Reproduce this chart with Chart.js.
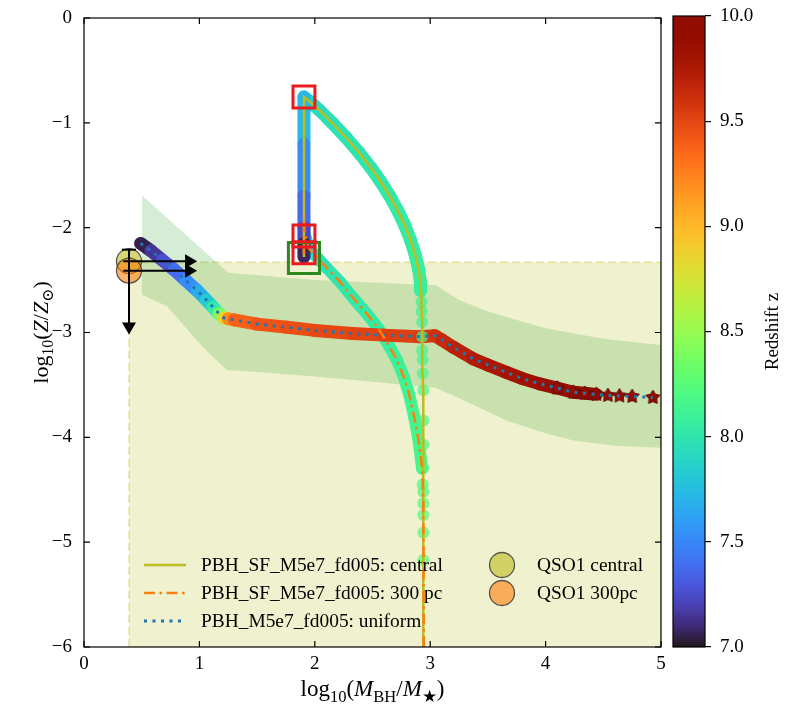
<!DOCTYPE html>
<html>
<head>
<meta charset="utf-8">
<script src="https://cdn.jsdelivr.net/npm/chart.js@4.4.1/dist/chart.umd.min.js"></script>
<style>
html, body { margin:0; padding:0; background:#fff; }
#wrap { position:relative; width:800px; height:711px; }
#wrap canvas { position:absolute; left:0; top:0; }
</style>
</head>
<body>
<div id="wrap">
  <canvas id="main" width="800" height="711"></canvas>
  <canvas id="cbar" width="800" height="711"></canvas>
</div>
<script>
//-------------
//- DATA -
//-------------
var xTicks = [0, 1, 2, 3, 4, 5];
var yTicks = [0, -1, -2, -3, -4, -5, -6];
var cbTicks = [7.0, 7.5, 8.0, 8.5, 9.0, 9.5, 10.0];

// upper limit region (QSO1)
var limitX = [0.39, 0.39, 5.0, 5.0];
var limitY = [-6.0, -2.33, -2.33, -6.0];

// green band
var bandUpperX = [0.5, 1.25, 2.0, 3.05, 3.25, 3.5, 3.75, 4.0, 4.25, 4.5, 4.75, 5.0];
var bandUpperY = [-1.69, -2.43, -2.5, -2.55, -2.69, -2.80, -2.88, -2.96, -3.01, -3.06, -3.09, -3.12];
var bandLowerX = [0.5, 0.72, 1.03, 1.24, 1.41, 2.0, 2.5, 3.05, 3.3, 3.66, 4.0, 4.24, 4.6, 5.0];
var bandLowerY = [-2.64, -2.75, -3.14, -3.36, -3.37, -3.42, -3.47, -3.53, -3.65, -3.84, -3.96, -4.03, -4.08, -4.10];

// PBH_M5e7_fd005: uniform
var uniX = [0.49, 0.58, 0.68, 0.78, 0.88, 0.98, 1.06, 1.12, 1.17, 1.21, 1.25, 1.30, 1.5, 1.76, 2.0, 2.33, 2.6, 2.91, 3.04,
            3.1, 3.2, 3.37, 3.5, 3.66, 3.8, 3.95, 4.1, 4.24, 4.34, 4.44, 4.54, 4.64, 4.75, 4.93];
var uniY = [-2.15, -2.22, -2.31, -2.40, -2.50, -2.60, -2.69, -2.76, -2.82, -2.86, -2.87, -2.88, -2.92, -2.95, -2.98, -3.01, -3.025, -3.04, -3.03,
            -3.07, -3.14, -3.25, -3.31, -3.38, -3.44, -3.49, -3.53, -3.57, -3.58, -3.59, -3.60, -3.605, -3.61, -3.62];
var uniZ = [7.0, 7.1, 7.2, 7.32, 7.45, 7.6, 7.75, 7.9, 8.15, 8.6, 9.05, 9.35, 9.42, 9.45, 9.48, 9.5, 9.52, 9.54, 9.57,
            9.62, 9.67, 9.72, 9.75, 9.78, 9.81, 9.84, 9.86, 9.88, 9.89, 9.9, 9.91, 9.92, 9.93, 9.95];

// PBH_SF_M5e7_fd005: central
var cenX = [2.94,
            2.94, 2.94, 2.94, 2.94, 2.94, 2.94, 2.94, 2.94, 2.935, 2.935, 2.93, 2.93, 2.93, 2.925, 2.925, 2.92,
            2.915, 2.9, 2.87, 2.83, 2.78, 2.72, 2.65, 2.57, 2.48, 2.38, 2.27, 2.15, 2.04, 1.96, 1.906,
            1.906, 1.906, 1.906, 1.906, 1.906];
var cenY = [-6.0,
            -5.17, -4.91, -4.74, -4.52, -4.29, -4.07, -3.84, -3.55, -3.39, -3.26, -3.17, -3.04, -2.9, -2.8, -2.71, -2.6,
            -2.52, -2.4, -2.26, -2.12, -1.98, -1.84, -1.70, -1.56, -1.42, -1.28, -1.14, -1.0, -0.88, -0.80, -0.754,
            -1.2, -1.7, -2.0, -2.15, -2.28];
var cenZ = [8.25,
            8.24, 8.23, 8.22, 8.21, 8.2, 8.19, 8.18, 8.17, 8.16, 8.15, 8.14, 8.13, 8.12, 8.11, 8.1, 8.09,
            8.08, 8.07, 8.06, 8.05, 8.04, 8.03, 8.02, 8.01, 8.0, 7.99, 7.98, 7.96, 7.94, 7.9, 7.85,
            7.6, 7.45, 7.3, 7.15, 7.0];

// PBH_SF_M5e7_fd005: 300 pc
var p3X = [2.945, 2.94, 2.935, 2.93, 2.91, 2.89, 2.86, 2.82, 2.77, 2.71, 2.64, 2.55, 2.45, 2.34, 2.22, 2.1, 2.0, 1.95, 1.91, 1.906, 1.906];
var p3Y = [-6.0, -4.63, -4.45, -4.3, -4.12, -3.97, -3.8, -3.6, -3.42, -3.26, -3.12, -2.96, -2.82, -2.68, -2.52, -2.38, -2.26, -2.2, -2.05, -1.88, -2.28];
var p3Z = [8.25, 8.22, 8.2, 8.18, 8.17, 8.16, 8.15, 8.13, 8.11, 8.09, 8.07, 8.05, 8.04, 8.03, 8.01, 7.99, 7.96, 7.9, 7.8, 7.6, 7.0];

// markers (squares)
var redSqX = [1.906, 1.906, 1.906];
var redSqY = [-0.754, -2.08, -2.24];
var greenSqX = [1.906];
var greenSqY = [-2.29];

// QSO1 observations + limits
var qsoLabels = ['QSO1 central', 'QSO1 300pc'];
var qsoX = [0.39, 0.39];
var qsoY = [-2.32, -2.41];
var qsoFill = ['rgba(188,189,34,0.6)', 'rgba(255,127,14,0.6)'];
var hArrowFromX = [0.34, 0.34];
var hArrowToX = [0.98, 0.98];
var vArrowX = [0.39];
var vArrowFromY = [-2.21];
var vArrowToY = [-3.02];

var lineLabels = ['PBH_SF_M5e7_fd005: central', 'PBH_SF_M5e7_fd005: 300 pc', 'PBH_M5e7_fd005: uniform'];

var SERIF = '"Liberation Serif", "DejaVu Serif", serif';
var DASHDOT = [11, 4.5, 2.5, 4.5];
var DOTTED = [3, 5.5];

//-------------
//- HELPERS -
//-------------
function turbo(t) {
  t = Math.min(1, Math.max(0, t));
  var r = 0.13572138 + t*(4.61539260 + t*(-42.66032258 + t*(132.13108234 + t*(-152.94239396 + t*59.28637943))));
  var g = 0.09140261 + t*(2.19418839 + t*(4.84296658 + t*(-14.18503333 + t*(4.27729857 + t*2.82956604))));
  var b = 0.10667330 + t*(12.64194608 + t*(-60.58204836 + t*(110.36276771 + t*(-89.90310912 + t*27.34824973))));
  return [r, g, b].map(function(v){ return Math.round(255 * Math.min(1, Math.max(0, v))); });
}
function zColor(z, a) {
  var c = turbo((z - 7) / 3);
  return 'rgba(' + c[0] + ',' + c[1] + ',' + c[2] + ',' + (a == null ? 1 : a) + ')';
}
function pts(xs, ys) {
  return xs.map(function(x, i){ return {x: x, y: ys[i]}; });
}
function fmt(v) {
  return v < 0 ? '\u2212' + Math.abs(v) : String(v);
}

var starCache = {};
function starImg(color) {
  if (starCache[color]) return starCache[color];
  var R = 7.5, c = document.createElement('canvas');
  c.width = c.height = 2 * R + 2;
  var g = c.getContext('2d');
  g.beginPath();
  for (var i = 0; i < 10; i++) {
    var r = i % 2 ? R * 0.55 : R;
    var a = -Math.PI / 2 + i * Math.PI / 5;
    g.lineTo(R + 1 + r * Math.cos(a), R + 1 + r * Math.sin(a));
  }
  g.closePath();
  g.fillStyle = color; g.fill();
  g.strokeStyle = 'rgba(90,15,5,0.9)'; g.lineWidth = 1; g.stroke();
  starCache[color] = c;
  return c;
}

// thick coloured track (redshift along the path)
function trackSet(xs, ys, zs, from, to, w, ord) {
  var sx = xs.slice(from, to), sy = ys.slice(from, to), sz = zs.slice(from, to);
  return {
    data: pts(sx, sy), pointRadius: 0, borderWidth: w, fill: false, order: ord,
    borderColor: zColor(sz[0]), borderCapStyle: 'round', borderJoinStyle: 'round',
    segment: { borderColor: function(c){ return zColor((sz[c.p0DataIndex] + sz[c.p1DataIndex]) / 2); } }
  };
}
function markerSet(xs, ys, zs, from, to, r, ord) {
  var sz = zs.slice(from, to);
  return {
    data: pts(xs.slice(from, to), ys.slice(from, to)), showLine: false, order: ord,
    pointRadius: r, pointBorderWidth: 0,
    pointBackgroundColor: sz.map(function(z){ return zColor(z, 0.72); })
  };
}
function lineSet(xs, ys, color, dash, w, ord) {
  return { data: pts(xs, ys), pointRadius: 0, borderColor: color, borderDash: dash, borderWidth: w,
           borderCapStyle: 'butt', fill: false, order: ord };
}

//-------------
//- MAIN CHART -
//-------------
Chart.defaults.color = '#000';

var datasets = [
  { data: pts(limitX, limitY), pointRadius: 0, fill: {value: -6},
    backgroundColor: 'rgba(188,189,34,0.22)', borderColor: 'rgba(188,189,34,0.30)',
    borderWidth: 2, borderDash: [8, 4], order: 20 },
  { data: pts(bandUpperX, bandUpperY), pointRadius: 0, borderColor: 'rgba(0,0,0,0)', borderWidth: 1,
    fill: '+1', backgroundColor: 'rgba(44,160,44,0.2)', order: 19 },
  { data: pts(bandLowerX, bandLowerY), pointRadius: 0, borderColor: 'rgba(0,0,0,0)', borderWidth: 1,
    fill: false, order: 19 },
  trackSet(p3X, p3Y, p3Z, 3, p3X.length, 12, 16),
  markerSet(p3X, p3Y, p3Z, 1, 4, 6, 16),
  trackSet(uniX, uniY, uniZ, 0, 30, 13, 15),
  markerSet(cenX, cenY, cenZ, 1, 17, 6, 14),
  trackSet(cenX, cenY, cenZ, 16, cenX.length, 13, 13),
  { data: pts(uniX.slice(26), uniY.slice(26)), showLine: false, order: 12,
    pointStyle: uniZ.slice(26).map(function(z){ return starImg(zColor(z)); }) },
  lineSet(uniX, uniY, '#1f77b4', DOTTED, 3, 9),
  lineSet(cenX, cenY, '#bcbd22', [], 2.5, 8),
  lineSet(p3X, p3Y, '#ff7f0e', DASHDOT, 2.5, 7),
  { data: pts(redSqX, redSqY), showLine: false, order: 5, pointStyle: 'rect', pointRadius: 15.5,
    pointBorderColor: '#ec1a1f', pointBorderWidth: 3, pointBackgroundColor: 'rgba(0,0,0,0)' },
  { data: pts(greenSqX, greenSqY), showLine: false, order: 5, pointStyle: 'rect', pointRadius: 22,
    pointBorderColor: '#2a8a1e', pointBorderWidth: 3, pointBackgroundColor: 'rgba(0,0,0,0)' },
  { data: pts(qsoX, qsoY), showLine: false, order: 3, pointStyle: 'circle', pointRadius: 12.5,
    pointBackgroundColor: qsoFill, pointBorderColor: 'rgba(60,60,60,0.85)', pointBorderWidth: 1.3 }
];

function drawRuns(ctx, runs, size, cx, base) {
  var fonts = runs.map(function(r){
    var s = r[1].indexOf('s') >= 0 ? size * 0.72 : size;
    return (r[1].indexOf('i') >= 0 ? 'italic ' : '') + s + 'px ' + SERIF;
  });
  var w = 0;
  runs.forEach(function(r, i){ ctx.font = fonts[i]; w += ctx.measureText(r[0]).width; });
  var x = cx - w / 2;
  ctx.textAlign = 'left';
  ctx.textBaseline = 'alphabetic';
  runs.forEach(function(r, i){
    ctx.font = fonts[i];
    var dy = r[1].indexOf('s') >= 0 ? size * 0.24 : 0;
    ctx.fillText(r[0], x, base + dy);
    x += ctx.measureText(r[0]).width;
  });
}

var framePlugin = {
  id: 'frame',
  afterDatasetsDraw: function(chart) {
    var ctx = chart.ctx, a = chart.chartArea, sx = chart.scales.x, sy = chart.scales.y;
    ctx.save();
    // QSO1 limit arrows
    ctx.strokeStyle = '#000'; ctx.fillStyle = '#000'; ctx.lineWidth = 2;
    vArrowX.forEach(function(x, i){
      var px = sx.getPixelForValue(x), p0 = sy.getPixelForValue(vArrowFromY[i]), p1 = sy.getPixelForValue(vArrowToY[i]);
      ctx.beginPath(); ctx.moveTo(px, p0); ctx.lineTo(px, p1 - 10); ctx.stroke();
      ctx.beginPath(); ctx.moveTo(px - 7, p0); ctx.lineTo(px + 7, p0); ctx.stroke();
      ctx.beginPath(); ctx.moveTo(px, p1); ctx.lineTo(px - 7, p1 - 12); ctx.lineTo(px + 7, p1 - 12); ctx.closePath(); ctx.fill();
    });
    qsoY.forEach(function(y, i){
      var py = sy.getPixelForValue(y), p0 = sx.getPixelForValue(hArrowFromX[i]), p1 = sx.getPixelForValue(hArrowToX[i]);
      ctx.beginPath(); ctx.moveTo(p0, py); ctx.lineTo(p1 - 10, py); ctx.stroke();
      ctx.beginPath(); ctx.moveTo(p1, py); ctx.lineTo(p1 - 12, py - 7); ctx.lineTo(p1 - 12, py + 7); ctx.closePath(); ctx.fill();
    });
    // frame + inward ticks
    ctx.lineWidth = 1.2;
    ctx.strokeRect(a.left, a.top, a.right - a.left, a.bottom - a.top);
    ctx.beginPath();
    xTicks.forEach(function(v){
      var p = sx.getPixelForValue(v);
      ctx.moveTo(p, a.bottom); ctx.lineTo(p, a.bottom - 6);
      ctx.moveTo(p, a.top); ctx.lineTo(p, a.top + 6);
    });
    yTicks.forEach(function(v){
      var p = sy.getPixelForValue(v);
      ctx.moveTo(a.left, p); ctx.lineTo(a.left + 6, p);
      ctx.moveTo(a.right, p); ctx.lineTo(a.right - 6, p);
    });
    ctx.stroke();
    // legend
    var rows = [565, 593, 621];
    var styles = [['#bcbd22', []], ['#ff7f0e', DASHDOT], ['#1f77b4', DOTTED]];
    ctx.font = '19.4px ' + SERIF; ctx.textBaseline = 'middle'; ctx.textAlign = 'left';
    lineLabels.forEach(function(t, i){
      ctx.strokeStyle = styles[i][0]; ctx.setLineDash(styles[i][1]); ctx.lineWidth = i === 2 ? 3 : 2.5;
      ctx.beginPath(); ctx.moveTo(144, rows[i]); ctx.lineTo(186, rows[i]); ctx.stroke();
      ctx.fillStyle = '#000'; ctx.fillText(t, 201, rows[i] + 1);
    });
    ctx.setLineDash([]);
    qsoLabels.forEach(function(t, i){
      ctx.beginPath(); ctx.arc(502, rows[i], 12.5, 0, Math.PI * 2);
      ctx.fillStyle = qsoFill[i]; ctx.fill();
      ctx.strokeStyle = 'rgba(60,60,60,0.85)'; ctx.lineWidth = 1.3; ctx.stroke();
      ctx.fillStyle = '#000'; ctx.fillText(t, 537, rows[i] + 1);
    });
    ctx.restore();
  },
  afterDraw: function(chart) {
    var ctx = chart.ctx, a = chart.chartArea;
    ctx.save();
    ctx.fillStyle = '#000';
    drawRuns(ctx, [['log', 'n'], ['10', 's'], ['(', 'n'], ['M', 'i'], ['BH', 's'], ['/', 'n'], ['M', 'i'], ['\u2605', 's'], [')', 'n']],
             23, (a.left + a.right) / 2, 696);
    ctx.translate(48, (a.top + a.bottom) / 2);
    ctx.rotate(-Math.PI / 2);
    drawRuns(ctx, [['log', 'n'], ['10', 's'], ['(', 'n'], ['Z', 'i'], ['/', 'n'], ['Z', 'i'], ['\u2299', 's'], [')', 'n']],
             22, 0, 0);
    ctx.restore();
  }
};

new Chart(document.getElementById('main'), {
  type: 'line',
  data: { datasets: datasets },
  options: {
    responsive: false, animation: false, events: [],
    layout: { autoPadding: false, padding: { top: 18, right: 139, left: 0, bottom: 0 } },
    plugins: { legend: { display: false }, tooltip: { enabled: false } },
    scales: {
      x: { type: 'linear', min: 0, max: 5,
           afterBuildTicks: function(s){ s.ticks = xTicks.map(function(v){ return {value: v}; }); },
           afterFit: function(s){ s.height = 64; s.paddingLeft = 0; s.paddingRight = 0; },
           grid: { display: false, drawTicks: false }, border: { display: false },
           ticks: { font: { family: SERIF, size: 19 }, padding: 6, maxRotation: 0, autoSkip: false, callback: fmt } },
      y: { type: 'linear', min: -6, max: 0,
           afterBuildTicks: function(s){ s.ticks = yTicks.map(function(v){ return {value: v}; }); },
           afterFit: function(s){ s.width = 84; s.paddingTop = 0; s.paddingBottom = 0; },
           grid: { display: false, drawTicks: false }, border: { display: false },
           ticks: { font: { family: SERIF, size: 19 }, padding: 12, autoSkip: false, callback: fmt } }
    }
  },
  plugins: [framePlugin]
});

//-------------
//- COLORBAR -
//-------------
var cbPlugin = {
  id: 'cbar',
  beforeDatasetsDraw: function(chart) {
    var ctx = chart.ctx, a = chart.chartArea;
    var g = ctx.createLinearGradient(0, a.bottom, 0, a.top);
    for (var i = 0; i <= 30; i++) g.addColorStop(i / 30, zColor(7 + 3 * i / 30));
    ctx.save();
    ctx.fillStyle = g;
    ctx.fillRect(a.left, a.top, a.right - a.left, a.bottom - a.top);
    ctx.strokeStyle = '#000'; ctx.lineWidth = 1.2;
    ctx.strokeRect(a.left, a.top, a.right - a.left, a.bottom - a.top);
    ctx.translate(778, (a.top + a.bottom) / 2);
    ctx.rotate(-Math.PI / 2);
    ctx.fillStyle = '#000'; ctx.font = '19px ' + SERIF;
    ctx.textAlign = 'center'; ctx.textBaseline = 'alphabetic';
    ctx.fillText('Redshift z', 0, 0);
    ctx.restore();
  }
};

new Chart(document.getElementById('cbar'), {
  type: 'scatter',
  data: { datasets: [{ data: [] }] },
  options: {
    responsive: false, animation: false, events: [],
    layout: { autoPadding: false, padding: { left: 673, top: 16, bottom: 64, right: 0 } },
    plugins: { legend: { display: false }, tooltip: { enabled: false } },
    scales: {
      x: { display: false, min: 0, max: 1 },
      y: { position: 'right', min: 7, max: 10,
           afterBuildTicks: function(s){ s.ticks = cbTicks.map(function(v){ return {value: v}; }); },
           afterFit: function(s){ s.width = 95; s.paddingTop = 0; s.paddingBottom = 0; },
           grid: { display: true, drawOnChartArea: false, drawTicks: true, tickLength: 6, color: '#000', lineWidth: 1.2 },
           border: { display: false },
           ticks: { font: { family: SERIF, size: 19 }, padding: 9, autoSkip: false,
                    callback: function(v){ return v.toFixed(1); } } }
    }
  },
  plugins: [cbPlugin]
});
</script>
</body>
</html>
